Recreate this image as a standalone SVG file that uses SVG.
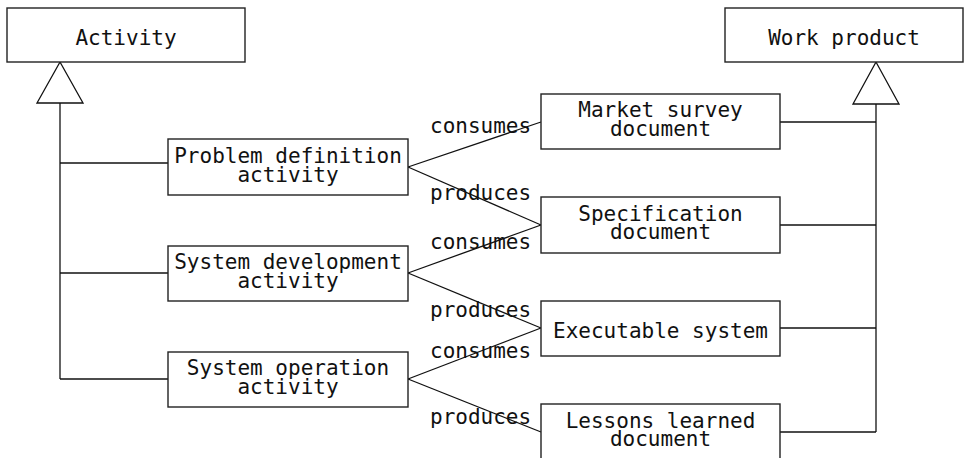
<svg xmlns="http://www.w3.org/2000/svg" width="964" height="458" viewBox="0 0 964 458">
<style>
.box{fill:#fff;stroke:#222;stroke-width:1.4}
.ln{fill:none;stroke:#111;stroke-width:1.3}
.tri{fill:#fff;stroke:#111;stroke-width:1.3}
text{font-family:"DejaVu Sans Mono","Liberation Mono",monospace;font-size:21px;fill:#111}
.c{text-anchor:middle}
</style>
<rect width="964" height="458" fill="#fff"/>
<g id="connectors">
<polyline class="ln" points="60,103 60,379"/>
<line class="ln" x1="60" y1="163" x2="168" y2="163"/>
<line class="ln" x1="60" y1="273" x2="168" y2="273"/>
<line class="ln" x1="60" y1="379" x2="168" y2="379"/>
<polygon class="tri" points="60,62 37,103 83,103"/>
<polyline class="ln" points="876,104 876,432"/>
<line class="ln" x1="780" y1="122" x2="876" y2="122"/>
<line class="ln" x1="780" y1="225" x2="876" y2="225"/>
<line class="ln" x1="780" y1="328" x2="876" y2="328"/>
<line class="ln" x1="780" y1="432" x2="876" y2="432"/>
<polygon class="tri" points="876,62 853,104 899,104"/>
<line class="ln" x1="408" y1="167" x2="541" y2="122"/>
<line class="ln" x1="408" y1="167" x2="541" y2="225"/>
<line class="ln" x1="408" y1="273" x2="541" y2="225"/>
<line class="ln" x1="408" y1="273" x2="541" y2="328"/>
<line class="ln" x1="408" y1="379" x2="541" y2="328"/>
<line class="ln" x1="408" y1="379" x2="541" y2="432"/>
<text x="430" y="133">consumes</text>
<text x="430" y="200">produces</text>
<text x="430" y="249">consumes</text>
<text x="430" y="317">produces</text>
<text x="430" y="358">consumes</text>
<text x="430" y="424">produces</text>
</g>
<g id="activity">
<rect class="box" x="7" y="8" width="238" height="54"/>
<text class="c" x="126" y="45">Activity</text>
</g>
<g id="work-product">
<rect class="box" x="725" y="8" width="238" height="54"/>
<text class="c" x="844" y="45">Work product</text>
</g>
<g id="problem-definition">
<rect class="box" x="168" y="139" width="240" height="56"/>
<text class="c" x="288" y="163">Problem definition</text>
<text class="c" x="288" y="181.5">activity</text>
</g>
<g id="system-development">
<rect class="box" x="168" y="246" width="240" height="55"/>
<text class="c" x="288" y="269">System development</text>
<text class="c" x="288" y="287.5">activity</text>
</g>
<g id="system-operation">
<rect class="box" x="168" y="352" width="240" height="55"/>
<text class="c" x="288" y="375">System operation</text>
<text class="c" x="288" y="393.5">activity</text>
</g>
<g id="market-survey">
<rect class="box" x="541" y="94" width="239" height="55"/>
<text class="c" x="660.5" y="117">Market survey</text>
<text class="c" x="660.5" y="135.5">document</text>
</g>
<g id="specification">
<rect class="box" x="541" y="197" width="239" height="56"/>
<text class="c" x="660.5" y="220.5">Specification</text>
<text class="c" x="660.5" y="239">document</text>
</g>
<g id="executable-system">
<rect class="box" x="541" y="301" width="239" height="55"/>
<text class="c" x="660.5" y="337.5">Executable system</text>
</g>
<g id="lessons-learned">
<rect class="box" x="541" y="404" width="239" height="60"/>
<text class="c" x="660.5" y="427.5">Lessons learned</text>
<text class="c" x="660.5" y="446">document</text>
</g>
</svg>
